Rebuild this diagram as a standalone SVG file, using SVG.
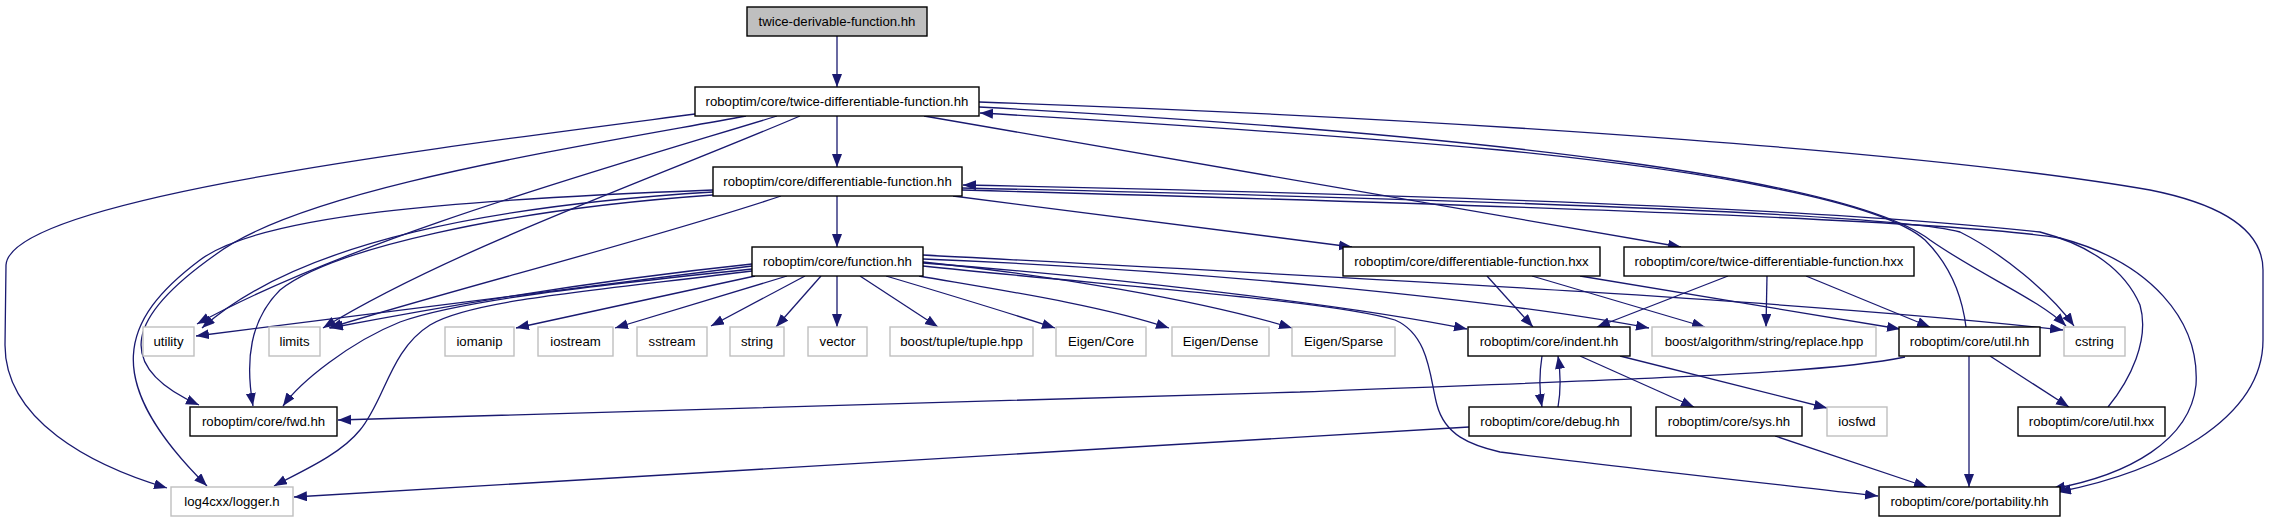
<svg xmlns="http://www.w3.org/2000/svg" width="2269" height="523" viewBox="0 0 2269 523">
<style>
.n rect{fill:#fff;stroke:#000;stroke-width:1.4}
.g rect{fill:#fff;stroke:#bfbfbf;stroke-width:1.4}
.m rect{fill:#bfbfbf;stroke:#000;stroke-width:1.4}
text{font-family:"Liberation Sans",Arial,sans-serif;font-size:13.2px;fill:#000;text-anchor:middle}
#edges path{fill:none;stroke:#191970;stroke-width:1.3;marker-end:url(#a)}
</style>
<defs>
<marker id="a" markerUnits="userSpaceOnUse" markerWidth="15" markerHeight="11" refX="13" refY="5" orient="auto"><path d="M0,0 L13,5 L0,10 z" fill="#191970"/></marker>
</defs>
<rect width="2269" height="523" fill="#fff"/>
<g id="edges">
<path d="M837,36 L837,87"/>
<path d="M837,116 L837,167"/>
<path d="M837,196 L837,247"/>
<path d="M695,114 C420,150 10,200 6,265 L5,345 C5,420 90,465 167,488"/>
<path d="M746,116 C560,150 300,190 215,255 C130,315 110,365 199,405"/>
<path d="M777,116 C600,170 350,240 197,324"/>
<path d="M800,116 C650,180 450,250 323,328"/>
<path d="M713,192 C500,205 300,240 202,328"/>
<path d="M713,190 C450,200 260,215 200,260 C120,320 100,380 207,486"/>
<path d="M713,195 C500,210 330,250 280,290 C250,320 245,360 253,406"/>
<path d="M781,196 C650,240 450,290 329,328"/>
<path d="M752,266 C550,290 350,315 196,336"/>
<path d="M752,264 C600,280 450,305 330,328"/>
<path d="M752,269 C600,285 460,300 400,322 C350,342 300,382 283,406"/>
<path d="M752,271 C600,290 470,300 430,325 C390,350 385,400 360,430 C340,455 300,472 274,486"/>
<path d="M755,276 L516,328"/>
<path d="M787,276 L615,328"/>
<path d="M805,276 L711,326"/>
<path d="M821,276 L776,327"/>
<path d="M837,276 L837,327"/>
<path d="M860,276 L938,327"/>
<path d="M886,276 C950,295 1000,310 1055,328"/>
<path d="M919,276 C1000,290 1100,305 1169,328"/>
<path d="M923,262 C1050,275 1200,300 1292,328"/>
<path d="M923,263 C1100,276 1350,305 1467,329"/>
<path d="M923,259 C1200,270 1500,300 1649,328"/>
<path d="M923,255 C1300,275 1800,300 2063,330"/>
<path d="M923,266 C1100,285 1330,300 1395,320 C1430,335 1430,380 1437,405 C1445,435 1470,445 1500,452 C1600,465 1800,487 1878,496"/>
<path d="M924,116 L1681,247"/>
<path d="M953,196 L1352,247"/>
<path d="M979,102 C1500,120 1950,155 2150,190 C2240,208 2263,240 2263,270 L2263,340 C2263,420 2160,472 2058,492"/>
<path d="M979,107 C1500,135 1850,180 1930,240 C1980,275 2040,300 2066,326"/>
<path d="M1966,327 C1962,295 1950,265 1925,240 C1880,200 1700,170 1500,150 C1300,132 1100,120 980,113"/>
<path d="M962,188 C1500,200 1900,215 1960,232 C2000,252 2050,292 2074,326"/>
<path d="M2108,407 C2130,380 2150,340 2140,305 C2125,270 2090,245 2040,232 C1800,205 1300,192 963,185"/>
<path d="M962,190 C1500,205 1950,220 2060,238 C2150,262 2200,320 2196,385 C2190,440 2130,475 2052,489"/>
<path d="M1487,276 L1533,327"/>
<path d="M1532,276 L1705,327"/>
<path d="M1580,276 L1900,329"/>
<path d="M1728,276 L1597,327"/>
<path d="M1767,276 L1766,327"/>
<path d="M1806,276 L1930,327"/>
<path d="M1542,356 C1539,375 1539,390 1542,407"/>
<path d="M1558,407 C1561,390 1561,375 1558,356"/>
<path d="M1580,356 L1694,407"/>
<path d="M1620,356 L1827,408"/>
<path d="M1969,356 L1969,487"/>
<path d="M1990,356 L2069,407"/>
<path d="M1905,357 C1820,375 1600,380 1300,392 C900,405 500,418 338,420"/>
<path d="M1775,436 L1927,487"/>
<path d="M1469,427 L294,497"/>
</g>
<g id="n0" class="m"><rect x="747" y="7" width="180" height="29"/><text x="837" y="26">twice-derivable-function.hh</text></g>
<g id="n1" class="n"><rect x="695" y="87" width="284" height="29"/><text x="837" y="106">roboptim/core/twice-differentiable-function.hh</text></g>
<g id="n2" class="n"><rect x="713" y="167" width="249" height="29"/><text x="837.5" y="186">roboptim/core/differentiable-function.hh</text></g>
<g id="n3" class="n"><rect x="752" y="247" width="171" height="29"/><text x="837.5" y="266">roboptim/core/function.hh</text></g>
<g id="n4" class="n"><rect x="1343" y="247" width="257" height="29"/><text x="1471.5" y="266">roboptim/core/differentiable-function.hxx</text></g>
<g id="n5" class="n"><rect x="1624" y="247" width="290" height="29"/><text x="1769" y="266">roboptim/core/twice-differentiable-function.hxx</text></g>
<g id="utility" class="g"><rect x="143" y="327" width="51" height="29"/><text x="168.5" y="346">utility</text></g>
<g id="limits" class="g"><rect x="269" y="327" width="51" height="29"/><text x="294.5" y="346">limits</text></g>
<g id="iomanip" class="g"><rect x="445" y="327" width="69" height="29"/><text x="479.5" y="346">iomanip</text></g>
<g id="iostream" class="g"><rect x="538" y="327" width="75" height="29"/><text x="575.5" y="346">iostream</text></g>
<g id="sstream" class="g"><rect x="637" y="327" width="70" height="29"/><text x="672" y="346">sstream</text></g>
<g id="string" class="g"><rect x="730" y="327" width="54" height="29"/><text x="757" y="346">string</text></g>
<g id="vector" class="g"><rect x="808" y="327" width="59" height="29"/><text x="837.5" y="346">vector</text></g>
<g id="tuple" class="g"><rect x="890" y="327" width="143" height="29"/><text x="961.5" y="346">boost/tuple/tuple.hpp</text></g>
<g id="eigencore" class="g"><rect x="1056" y="327" width="90" height="29"/><text x="1101" y="346">Eigen/Core</text></g>
<g id="eigendense" class="g"><rect x="1172" y="327" width="97" height="29"/><text x="1220.5" y="346">Eigen/Dense</text></g>
<g id="eigensparse" class="g"><rect x="1292" y="327" width="103" height="29"/><text x="1343.5" y="346">Eigen/Sparse</text></g>
<g id="indent" class="n"><rect x="1468" y="327" width="162" height="29"/><text x="1549" y="346">roboptim/core/indent.hh</text></g>
<g id="replace" class="g"><rect x="1652" y="327" width="224" height="29"/><text x="1764" y="346">boost/algorithm/string/replace.hpp</text></g>
<g id="utilhh" class="n"><rect x="1899" y="327" width="141" height="29"/><text x="1969.5" y="346">roboptim/core/util.hh</text></g>
<g id="cstring" class="g"><rect x="2064" y="327" width="61" height="29"/><text x="2094.5" y="346">cstring</text></g>
<g id="fwd" class="n"><rect x="190" y="407" width="147" height="29"/><text x="263.5" y="426">roboptim/core/fwd.hh</text></g>
<g id="debug" class="n"><rect x="1469" y="407" width="162" height="29"/><text x="1550" y="426">roboptim/core/debug.hh</text></g>
<g id="sys" class="n"><rect x="1656" y="407" width="146" height="29"/><text x="1729" y="426">roboptim/core/sys.hh</text></g>
<g id="iosfwd" class="g"><rect x="1827" y="407" width="60" height="29"/><text x="1857" y="426">iosfwd</text></g>
<g id="utilhxx" class="n"><rect x="2018" y="407" width="147" height="29"/><text x="2091.5" y="426">roboptim/core/util.hxx</text></g>
<g id="logger" class="g"><rect x="171" y="487" width="122" height="29"/><text x="232" y="506">log4cxx/logger.h</text></g>
<g id="portability" class="n"><rect x="1879" y="487" width="181" height="29"/><text x="1969.5" y="506">roboptim/core/portability.hh</text></g>
</svg>
